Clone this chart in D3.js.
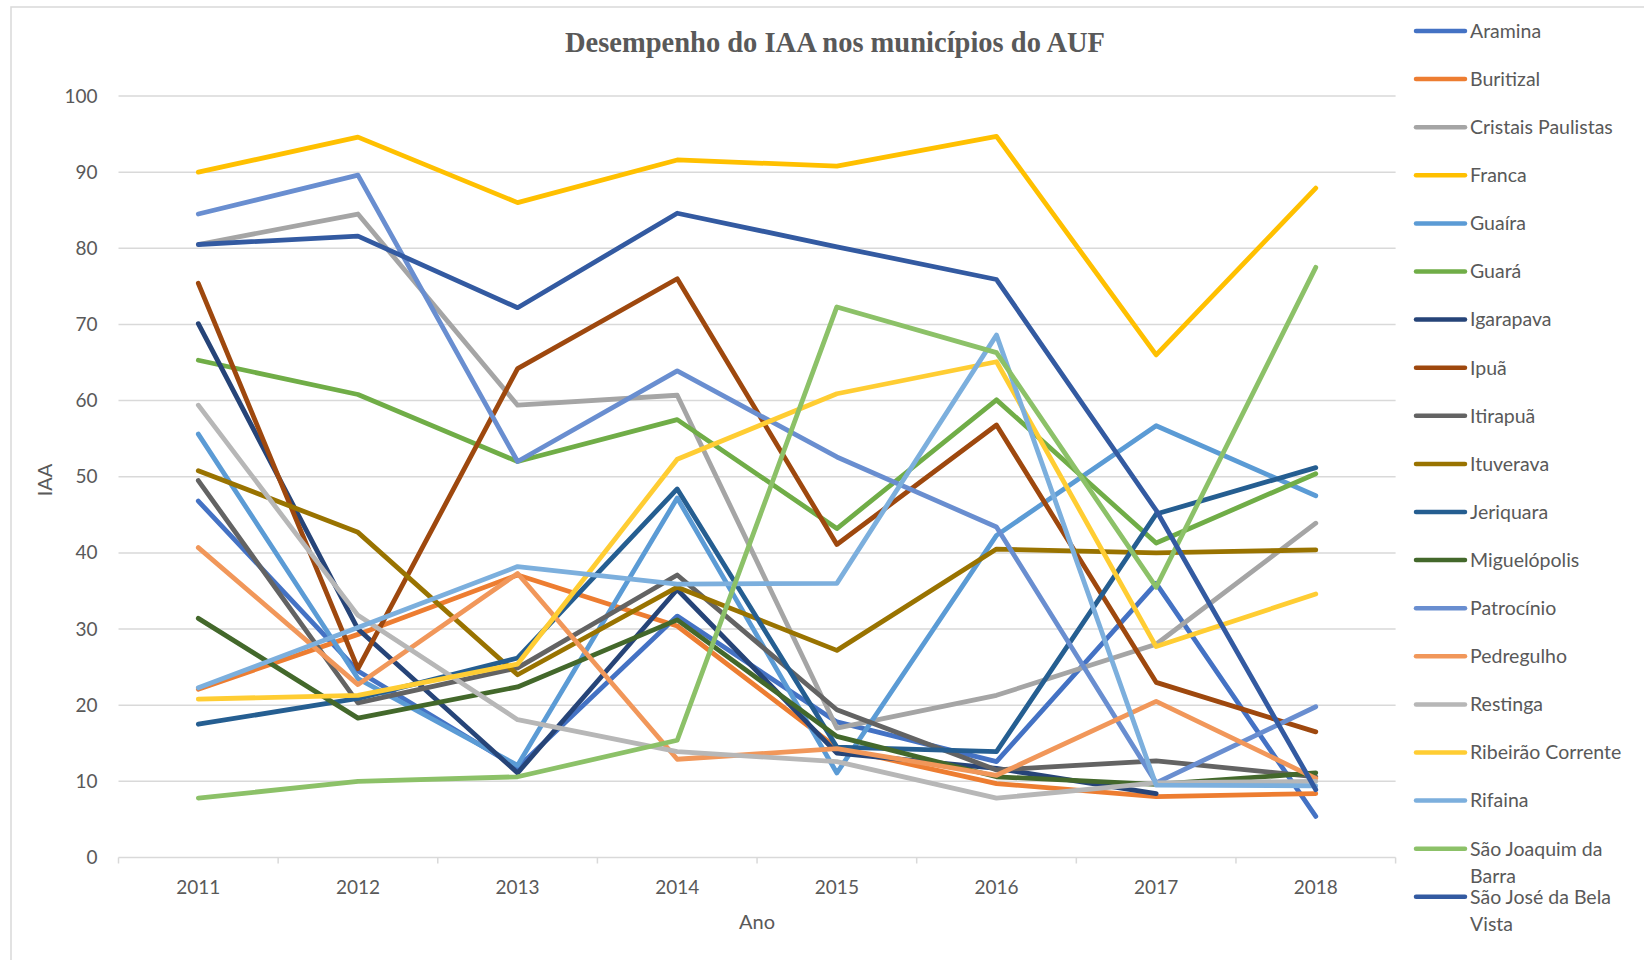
<!DOCTYPE html>
<html lang="pt">
<head>
<meta charset="UTF-8">
<title>Desempenho do IAA nos municípios do AUF</title>
<style>
  body { margin: 0; padding: 0; overflow: hidden; background: #fff; }
  svg { display: block; }
</style>
</head>
<body>
<script src="https://d3js.org/d3.v7.min.js"></script>
<script>
// Anos (categorias)
const years = ["2011", "2012", "2013", "2014", "2015", "2016", "2017", "2018"];

// Nomes dos municípios (ordem da legenda)
const names = [
  "Aramina", "Buritizal", "Cristais Paulistas", "Franca", "Guaíra", "Guará",
  "Igarapava", "Ipuã", "Itirapuã", "Ituverava", "Jeriquara", "Miguelópolis",
  "Patrocínio", "Pedregulho", "Restinga", "Ribeirão Corrente", "Rifaina",
  "São Joaquim da Barra", "São José da Bela Vista"
];

// Valores do IAA por município, 2011..2018
const aramina     = [46.8, 24.5, 11.8, 31.7, 17.8, 12.6, 36.0, 5.4];
const buritizal   = [22.1, 29.3, 37.1, 30.4, 14.4, 9.7, 8.0, 8.4];
const cristais    = [80.5, 84.5, 59.4, 60.7, 17.0, 21.3, 28.0, 43.9];
const franca      = [90.0, 94.6, 86.0, 91.6, 90.8, 94.7, 66.0, 87.9];
const guaira      = [55.6, 23.5, 12.1, 47.2, 11.1, 42.3, 56.7, 47.5];
const guara       = [65.3, 60.8, 52.0, 57.5, 43.2, 60.1, 41.3, 50.4];
const igarapava   = [70.1, 30.0, 11.1, 35.2, 13.7, 11.7, 8.4, null];
const ipua        = [75.4, 24.8, 64.2, 76.0, 41.1, 56.8, 23.0, 16.5];
const itirapua    = [49.5, 20.3, 24.9, 37.1, 19.4, 11.5, 12.7, 10.6];
const ituverava   = [50.8, 42.7, 24.0, 35.5, 27.2, 40.5, 40.0, 40.4];
const jeriquara   = [17.5, 20.9, 26.2, 48.4, 14.5, 13.9, 45.1, 51.2];
const miguelopolis = [31.4, 18.3, 22.4, 31.2, 15.9, 10.6, 9.6, 11.1];
const patrocinio  = [84.5, 89.6, 52.0, 63.9, 52.6, 43.4, 9.8, 19.8];
const pedregulho  = [40.7, 22.7, 37.3, 12.9, 14.3, 10.8, 20.5, 10.4];
const restinga    = [59.4, 31.8, 18.1, 13.9, 12.6, 7.8, 9.8, 10.0];
const ribeirao    = [20.8, 21.3, 25.4, 52.3, 60.9, 65.1, 27.7, 34.6];
const rifaina     = [22.3, 30.2, 38.2, 35.9, 36.0, 68.6, 9.5, 9.4];
const saoJoaquim  = [7.8, 10.0, 10.6, 15.4, 72.3, 66.3, 35.5, 77.5];
const saoJose     = [80.5, 81.6, 72.2, 84.6, 80.2, 75.9, 45.6, 8.9];

const values = [aramina, buritizal, cristais, franca, guaira, guara, igarapava,
  ipua, itirapua, ituverava, jeriquara, miguelopolis, patrocinio, pedregulho,
  restinga, ribeirao, rifaina, saoJoaquim, saoJose];

// Paleta padrão do Office
const colors = [
  "#4472C4", "#ED7D31", "#A5A5A5", "#FFC000", "#5B9BD5", "#70AD47",
  "#264478", "#9E480E", "#636363", "#997300", "#255E91", "#43682B",
  "#698ED0", "#F1975A", "#B7B7B7", "#FFCD33", "#7CAFDD", "#8CC168", "#335AA1"
];

const yTicks = d3.range(0, 101, 10);

const width = 1644, height = 960;
const font = "Lato, Carlito, Calibri, sans-serif";
const textColor = "#595959";
const gridColor = "#d9d9d9";

const svg = d3.select("body").append("svg")
  .attr("width", width)
  .attr("height", height);

svg.append("rect").attr("width", width).attr("height", height).attr("fill", "#fff");

// borda da área do gráfico (cortada à direita e embaixo)
svg.append("rect")
  .attr("x", 11).attr("y", 7)
  .attr("width", 1800).attr("height", 1200)
  .attr("fill", "none")
  .attr("stroke", gridColor)
  .attr("stroke-width", 1.5);

const x = d3.scaleBand().domain(years).range([118.5, 1395.6]).padding(0);
const y = d3.scaleLinear().domain([0, 100]).range([857.5, 96]);
const cx = d => x(d) + x.bandwidth() / 2;

// linhas de grade
svg.append("g").selectAll("line")
  .data(yTicks)
  .join("line")
  .attr("x1", x.range()[0]).attr("x2", x.range()[1])
  .attr("y1", d => y(d)).attr("y2", d => y(d))
  .attr("stroke", gridColor)
  .attr("stroke-width", 1.5);

// eixo Y
const yAxis = svg.append("g")
  .attr("transform", `translate(${x.range()[0] - 21},0)`)
  .call(d3.axisLeft(y).tickValues(yTicks).tickSize(0).tickPadding(0));
yAxis.select(".domain").remove();
yAxis.selectAll("text")
  .attr("font-family", font).attr("font-size", 19).attr("fill", textColor);

// eixo X (rótulos no centro, marcas entre categorias)
const xAxis = svg.append("g")
  .attr("transform", `translate(0,${y(0)})`)
  .call(d3.axisBottom(x).tickSize(0).tickPadding(23));
xAxis.select(".domain").remove();
xAxis.selectAll("text")
  .attr("font-family", font).attr("font-size", 19).attr("fill", textColor);

const edges = years.map(d => x(d)).concat([x.range()[1]]);
svg.append("g").selectAll("line")
  .data(edges)
  .join("line")
  .attr("x1", d => d).attr("x2", d => d)
  .attr("y1", y(0)).attr("y2", y(0) + 6)
  .attr("stroke", gridColor)
  .attr("stroke-width", 1.5);

// séries
const line = d3.line()
  .defined(d => d.v != null)
  .x(d => cx(d.year))
  .y(d => y(d.v));

svg.append("g").selectAll("path")
  .data(values)
  .join("path")
  .attr("d", vals => line(vals.map((v, i) => ({ year: years[i], v }))))
  .attr("fill", "none")
  .attr("stroke", (d, i) => colors[i])
  .attr("stroke-width", 4.8)
  .attr("stroke-linejoin", "round")
  .attr("stroke-linecap", "round");

// título
svg.append("text")
  .attr("x", 835).attr("y", 52)
  .attr("text-anchor", "middle")
  .attr("font-family", "'Liberation Serif', 'Times New Roman', serif")
  .attr("font-weight", "bold")
  .attr("font-size", 28.5)
  .attr("fill", textColor)
  .text("Desempenho do IAA nos municípios do AUF");

// títulos dos eixos
svg.append("text")
  .attr("x", 757).attr("y", 929)
  .attr("text-anchor", "middle")
  .attr("font-family", font).attr("font-size", 20).attr("fill", textColor)
  .text("Ano");

svg.append("text")
  .attr("transform", "translate(52,480) rotate(-90)")
  .attr("text-anchor", "middle")
  .attr("font-family", font).attr("font-size", 20).attr("fill", textColor)
  .text("IAA");

// legenda
const legend = svg.append("g").attr("transform", "translate(1416,31)");
const item = legend.selectAll("g")
  .data(names)
  .join("g")
  .attr("transform", (d, i) => `translate(0,${i * 48.1})`);

item.append("line")
  .attr("x1", 0).attr("x2", 49)
  .attr("stroke", (d, i) => colors[i])
  .attr("stroke-width", 4.5)
  .attr("stroke-linecap", "round");

const maxLabel = 172;
item.append("text")
  .attr("x", 54)
  .attr("dy", "0.35em")
  .attr("font-family", font).attr("font-size", 19.5).attr("fill", textColor)
  .each(function (name) {
    const t = d3.select(this);
    const words = name.split(" ");
    let lineWords = [];
    let ts = t.append("tspan").attr("x", 54);
    words.forEach(w => {
      lineWords.push(w);
      ts.text(lineWords.join(" "));
      if (ts.node().getComputedTextLength() > maxLabel && lineWords.length > 1) {
        lineWords.pop();
        ts.text(lineWords.join(" "));
        lineWords = [w];
        ts = t.append("tspan").attr("x", 54).attr("dy", 27).text(w);
      }
    });
  });
</script>
</body>
</html>
